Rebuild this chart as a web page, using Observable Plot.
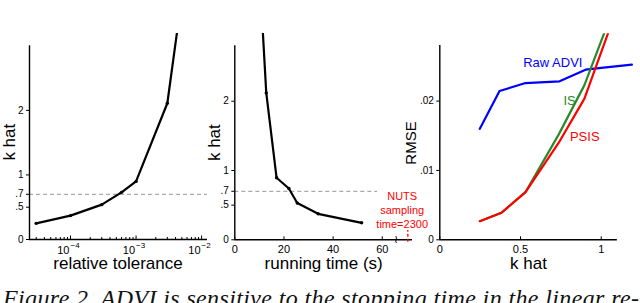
<!DOCTYPE html>
<html><head><meta charset="utf-8">
<script src="https://cdn.jsdelivr.net/npm/d3@7"></script>
<script src="https://cdn.jsdelivr.net/npm/@observablehq/plot@0.6"></script>
<style>
html,body{margin:0;padding:0;background:#fff;}
#wrap{position:relative;width:640px;height:303px;overflow:hidden;background:#fff;}
#wrap svg{position:absolute;left:0;top:0;}
#caption{position:absolute;left:3px;top:286px;font:italic 24px "Liberation Serif","DejaVu Serif",serif;line-height:24px;white-space:nowrap;color:#111;}
</style></head><body>
<div id="wrap"><div id="caption">Figure 2. ADVI is sensitive to the stopping time in the linear re-</div></div>
<script>
// ---- Panel 1: k hat vs relative tolerance ----
const tolerance = [3e-5, 1e-4, 3e-4, 6e-4, 1e-3, 3e-3, 5e-3];
const khatTol = [0.25, 0.37, 0.54, 0.73, 0.90, 2.11, 3.76];
const tolMajor = [1e-4, 1e-3, 1e-2];
const tolExp = ["\u22124", "\u22123", "\u22122"];
const tolMinor = [3e-5,4e-5,5e-5,6e-5,7e-5,8e-5,9e-5,2e-4,3e-4,4e-4,5e-4,6e-4,7e-4,8e-4,9e-4,2e-3,3e-3,4e-3,5e-3,6e-3,7e-3,8e-3,9e-3];
const khatTicks = [0, 0.5, 0.7, 1, 2];
const khatTickLabels = ["0", ".5", ".7", "1", "2"];
const threshold = 0.7;

// ---- Panel 2: k hat vs running time ----
const runTime = [51.6, 33.9, 25.4, 22, 17, 12.8, 10.2];
const khatTime = [0.245, 0.375, 0.53, 0.74, 0.895, 2.12, 3.76];
const timeTicks = [0, 20, 40, 60];
const axisBreak = 65.6;
const nutsMark = 70.4;
const nutsLabel = "NUTS\nsampling\ntime=2300";
const nutsLabelPos = [68.1, 0.44];

// ---- Panel 3: RMSE vs k hat ----
const khatRaw = [0.248, 0.37, 0.531, 0.742, 0.903, 1.0, 1.19];
const rmseRaw = [0.0160, 0.02145, 0.0226, 0.02285, 0.02453, 0.0248, 0.02525];
const khatIS = [0.248, 0.382, 0.531, 0.737, 0.896, 1.1];
const rmseIS = [0.00268, 0.0039, 0.00687, 0.0152, 0.0223, 0.0348];
const khatPSIS = [0.248, 0.382, 0.531, 0.737, 0.896, 1.1];
const rmsePSIS = [0.00268, 0.0039, 0.00687, 0.0140, 0.02035, 0.0335];
const rmseTicks = [0, 0.01, 0.02];
const rmseTickLabels = ["0", ".01", ".02"];
const khatXTicks = [0, 0.5, 1];
const khatXTickLabels = ["0", "0.5", "1"];
const seriesLabels = [
  {name: "Raw ADVI", k: 0.70, r: 0.02554, color: "#0000ff"},
  {name: "IS", k: 0.804, r: 0.0200, color: "#2a8a2a"},
  {name: "PSIS", k: 0.898, r: 0.0149, color: "#ff0000"}
];

const zip = (xs, ys) => xs.map((x, i) => ({x, y: ys[i]}));
const W = 640, H = 303;
const base = {
  width: W, height: H,
  style: {fontFamily: '"Liberation Sans", Arial, Helvetica, sans-serif', fontSize: "10px", background: "transparent", overflow: "visible", color: "#000"}
};
const axisW = 1.4, lineW = 2.2;
const wrap = document.getElementById("wrap");
const labelX = {frameAnchor: "bottom", textAnchor: "middle", lineAnchor: "middle", fontSize: 17};
const labelY = {frameAnchor: "left", rotate: -90, textAnchor: "middle", lineAnchor: "middle"};

// Panel 1
const tolDomain = [2.37e-5, 0.0123];
const p1 = Plot.plot({
  ...base,
  marginLeft: 29, marginRight: W - 207, marginTop: 33, marginBottom: H - 239,
  x: {type: "log", domain: tolDomain, axis: null},
  y: {domain: [0, 3.19], axis: null},
  marks: [
    Plot.ruleY([threshold], {x1: tolDomain[0], x2: tolDomain[1], stroke: "#aaa", strokeWidth: 1.2, strokeDasharray: "4,3"}),
    Plot.axisY(khatTicks, {anchor: "left", tickSize: 3, tickPadding: 3, fontSize: 10, label: null, tickFormat: d => khatTickLabels[khatTicks.indexOf(d)]}),
    Plot.axisX(tolMinor, {anchor: "bottom", tickSize: -2, fill: "none", label: null}),
    Plot.axisX(tolMajor, {anchor: "bottom", tickSize: -3.5, fill: "none", label: null}),
    Plot.text(tolMajor, {x: d => d, y: () => 0, text: () => "10", textAnchor: "end", dx: -1, dy: 10.8, fontSize: 11}),
    Plot.text(tolMajor, {x: d => d, y: () => 0, text: (d, i) => tolExp[i], textAnchor: "start", dx: 0, dy: 6.2, fontSize: 8}),
    Plot.ruleX([tolDomain[0]], {y1: 0, y2: 3.0, strokeWidth: axisW}),
    Plot.ruleY([0], {x1: tolDomain[0], x2: tolDomain[1], strokeWidth: axisW}),
    Plot.line(zip(tolerance, khatTol), {x: "x", y: "y", stroke: "#000", strokeWidth: lineW, clip: true}),
    Plot.dot(zip(tolerance, khatTol), {x: "x", y: "y", r: 1.7, fill: "#000", clip: true}),
    Plot.text(["relative tolerance"], {...labelX, dx: -0.5, dy: 24}),
    Plot.text(["k hat"], {...labelY, dx: -19.8, dy: 5.7, fontSize: 17})
  ]
});
wrap.appendChild(p1);

// Panel 2
const p2 = Plot.plot({
  ...base,
  marginLeft: 234.3, marginRight: W - 412, marginTop: 33, marginBottom: H - 239.3,
  x: {domain: [0, 72.3], axis: null},
  y: {domain: [0, 2.977], axis: null},
  marks: [
    Plot.ruleY([threshold], {x1: 0, x2: 58.1, stroke: "#aaa", strokeWidth: 1.2, strokeDasharray: "4,3"}),
    Plot.axisY(khatTicks, {anchor: "left", tickSize: 3, tickPadding: 3, fontSize: 10, label: null, tickFormat: d => khatTickLabels[khatTicks.indexOf(d)]}),
    Plot.axisX(timeTicks, {anchor: "bottom", tickSize: -3, tickPadding: 8.5, fontSize: 11, label: null}),
    Plot.ruleX([0], {y1: 0, y2: 2.8, strokeWidth: axisW}),
    Plot.ruleY([0], {x1: 0, x2: 72.3, strokeWidth: axisW}),
    Plot.text([axisBreak], {x: d => d, y: () => 0, text: () => "\u2240", fontSize: 11, fill: "#000"}),
    Plot.ruleX([nutsMark], {y1: -0.035, y2: 0.134, stroke: "#ff0000", strokeWidth: 1.3, strokeDasharray: "3,2"}),
    Plot.text([nutsLabel], {x: () => nutsLabelPos[0], y: () => nutsLabelPos[1], fill: "#ff0000", fontSize: 11, lineHeight: 1.27}),
    Plot.line(zip(runTime, khatTime), {x: "x", y: "y", stroke: "#000", strokeWidth: lineW, clip: true}),
    Plot.dot(zip(runTime, khatTime), {x: "x", y: "y", r: 1.7, fill: "#000", clip: true}),
    Plot.text(["running time (s)"], {...labelX, dy: 23.5}),
    Plot.text(["k hat"], {...labelY, dx: -19.8, dy: 6, fontSize: 17})
  ]
});
wrap.appendChild(p2);

// Panel 3
const p3 = Plot.plot({
  ...base,
  marginLeft: 439.3, marginRight: W - 633, marginTop: 33.3, marginBottom: H - 239.3,
  x: {domain: [0, 1.2], axis: null},
  y: {domain: [0, 0.0297], axis: null},
  marks: [
    Plot.axisY(rmseTicks, {anchor: "left", tickSize: 3, tickPadding: 3, fontSize: 10, label: null, tickFormat: d => rmseTickLabels[rmseTicks.indexOf(d)]}),
    Plot.axisX(khatXTicks, {anchor: "bottom", tickSize: -3, tickPadding: 8.5, fontSize: 11, label: null, tickFormat: d => khatXTickLabels[khatXTicks.indexOf(d)]}),
    Plot.ruleX([0], {y1: 0, y2: 0.028, strokeWidth: axisW}),
    Plot.ruleY([0], {x1: 0, x2: 1.1, strokeWidth: axisW}),
    Plot.line(zip(khatRaw, rmseRaw), {x: "x", y: "y", stroke: "#0000ff", strokeWidth: lineW, clip: true}),
    Plot.line(zip(khatIS, rmseIS), {x: "x", y: "y", stroke: "#2a8a2a", strokeWidth: lineW, clip: true}),
    Plot.line(zip(khatPSIS, rmsePSIS), {x: "x", y: "y", stroke: "#ff0000", strokeWidth: lineW, clip: true}),
    Plot.text(seriesLabels, {x: "k", y: "r", text: "name", fill: "color", fontSize: 13}),
    Plot.text(["k hat"], {...labelX, dx: -8.2, dy: 23.5}),
    Plot.text(["RMSE"], {...labelY, dx: -28.6, dy: 6.2, fontSize: 15})
  ]
});
wrap.appendChild(p3);

// stretch caption to the reference's line width
const cap = document.getElementById("caption");
const target = 636, w0 = cap.getBoundingClientRect().width;
const n = cap.textContent.length - 1;
cap.style.letterSpacing = ((target - w0) / n).toFixed(3) + "px";
</script>
</body></html>
